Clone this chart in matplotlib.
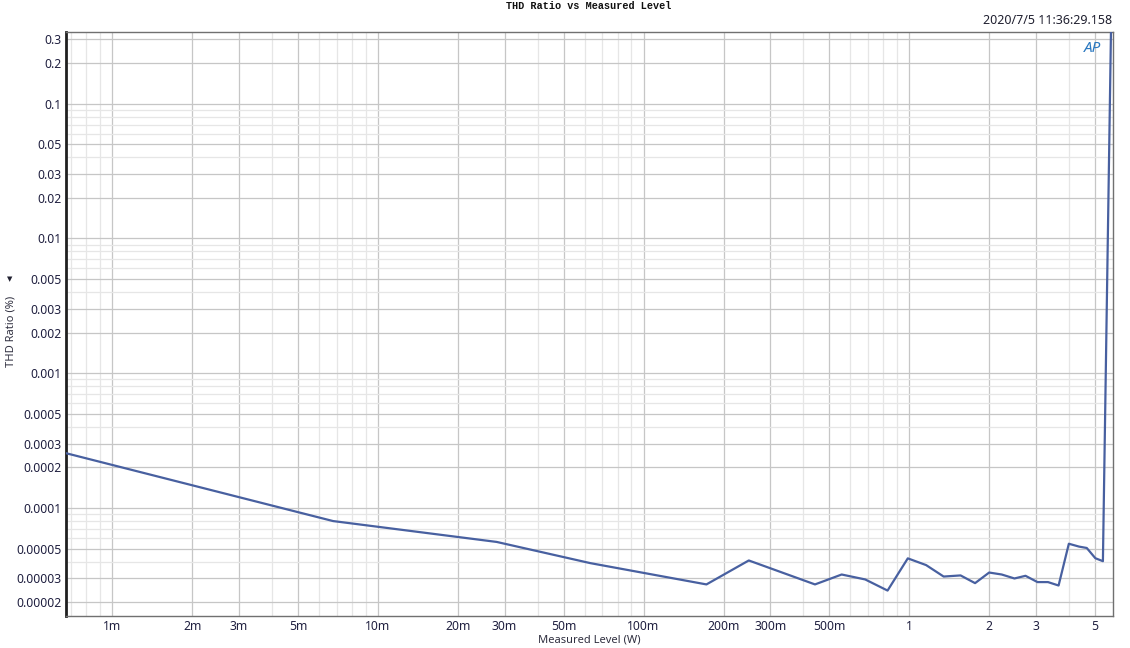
import numpy as np
import matplotlib.pyplot as plt
from matplotlib.ticker import FixedLocator, NullFormatter

# measured level (W) and THD ratio (%)
level_w = [0.00067, 0.00678, 0.0280, 0.0630, 0.1725, 0.249, 0.442, 0.557, 0.683,
           0.829, 0.988, 1.158, 1.348, 1.561, 1.77, 2.00, 2.23, 2.49, 2.74, 3.04,
           3.33, 3.65, 3.99, 4.36, 4.66, 5.02, 5.36, 5.76]
thd_pct = [2.55e-4, 8.0e-5, 5.6e-5, 3.9e-5, 2.71e-5, 4.08e-5, 2.71e-5, 3.21e-5, 2.95e-5,
           2.44e-5, 4.23e-5, 3.77e-5, 3.10e-5, 3.16e-5, 2.77e-5, 3.32e-5, 3.21e-5, 3.0e-5,
           3.14e-5, 2.82e-5, 2.82e-5, 2.66e-5, 5.43e-5, 5.17e-5, 5.05e-5, 4.24e-5, 4.03e-5, 0.45]

x_ticks = [0.001, 0.002, 0.003, 0.005, 0.01, 0.02, 0.03, 0.05, 0.1, 0.2, 0.3, 0.5, 1, 2, 3, 5]
x_labels = ['1m', '2m', '3m', '5m', '10m', '20m', '30m', '50m', '100m', '200m', '300m',
            '500m', '1', '2', '3', '5']
y_ticks = [0.3, 0.2, 0.1, 0.05, 0.03, 0.02, 0.01, 0.005, 0.003, 0.002, 0.001, 0.0005,
           0.0003, 0.0002, 0.0001, 0.00005, 0.00003, 0.00002]
y_labels = ['0.3', '0.2', '0.1', '0.05', '0.03', '0.02', '0.01', '0.005', '0.003', '0.002',
            '0.001', '0.0005', '0.0003', '0.0002', '0.0001', '0.00005', '0.00003', '0.00002']

plt.rcParams['font.family'] = ['Noto Sans', 'DejaVu Sans']

W, H = 1130, 648
fig = plt.figure(figsize=(W / 100, H / 100), dpi=100)
ax = fig.add_axes([66 / W, 1 - 616 / H, (1113 - 66) / W, (616 - 32) / H])

ax.plot(level_w, thd_pct, color='#4860a0', linewidth=1.6, zorder=3)

ax.set_xscale('log')
ax.set_yscale('log')
ax.set_xlim(0.00067, 5.85)
ax.set_ylim(1.58e-5, 0.34)

# minor grid at every 1..9 step, major at labelled values
minor_x = [m * 10.0 ** e for e in range(-4, 1) for m in range(1, 10)]
minor_y = [m * 10.0 ** e for e in range(-6, 0) for m in range(1, 10)]
ax.xaxis.set_minor_locator(FixedLocator(minor_x))
ax.yaxis.set_minor_locator(FixedLocator(minor_y))
ax.xaxis.set_minor_formatter(NullFormatter())
ax.yaxis.set_minor_formatter(NullFormatter())
ax.set_xticks(x_ticks)
ax.set_xticklabels(x_labels)
ax.set_yticks(y_ticks)
ax.set_yticklabels(y_labels)
ax.grid(True, which='minor', color='#e6e6e6', linewidth=0.9)
ax.grid(True, which='major', color='#c6c6c6', linewidth=0.9)
ax.set_axisbelow(True)

ax.tick_params(which='both', length=0, labelsize=8.8, colors='#202040')
ax.tick_params(axis='x', pad=3)
ax.tick_params(axis='y', pad=3)

for s in ['top', 'right', 'bottom']:
    ax.spines[s].set_color('#707070')
    ax.spines[s].set_linewidth(1.0)
ax.spines['left'].set_color('#202020')
ax.spines['left'].set_linewidth(2.0)

# axis titles
fig.text(589 / W, 1 - 640 / H, 'Measured Level (W)', fontsize=8, color='#303040',
         ha='center', va='center')
fig.text(11 / W, 1 - 331 / H, 'THD Ratio (%)', fontsize=8, color='#303040',
         rotation=90, ha='center', va='center')
fig.text(10 / W, 1 - 280 / H, '▼', fontsize=5, color='#202030', ha='center', va='center')

fig.text(589 / W, 1 - 6 / H, 'THD Ratio vs Measured Level', fontsize=7.3, family='Liberation Mono',
         fontweight='bold', ha='center', va='center', color='#101010')
fig.text(1112 / W, 1 - 20 / H, '2020/7/5 11:36:29.158', fontsize=9, ha='right', va='center',
         color='#202030')
ax.text(0.98, 0.9726, 'AP', transform=ax.transAxes, fontsize=11, fontstyle='italic',
        fontweight='bold', color='#2a78c0', ha='center', va='center')

fig.savefig('out.png', dpi=100)
